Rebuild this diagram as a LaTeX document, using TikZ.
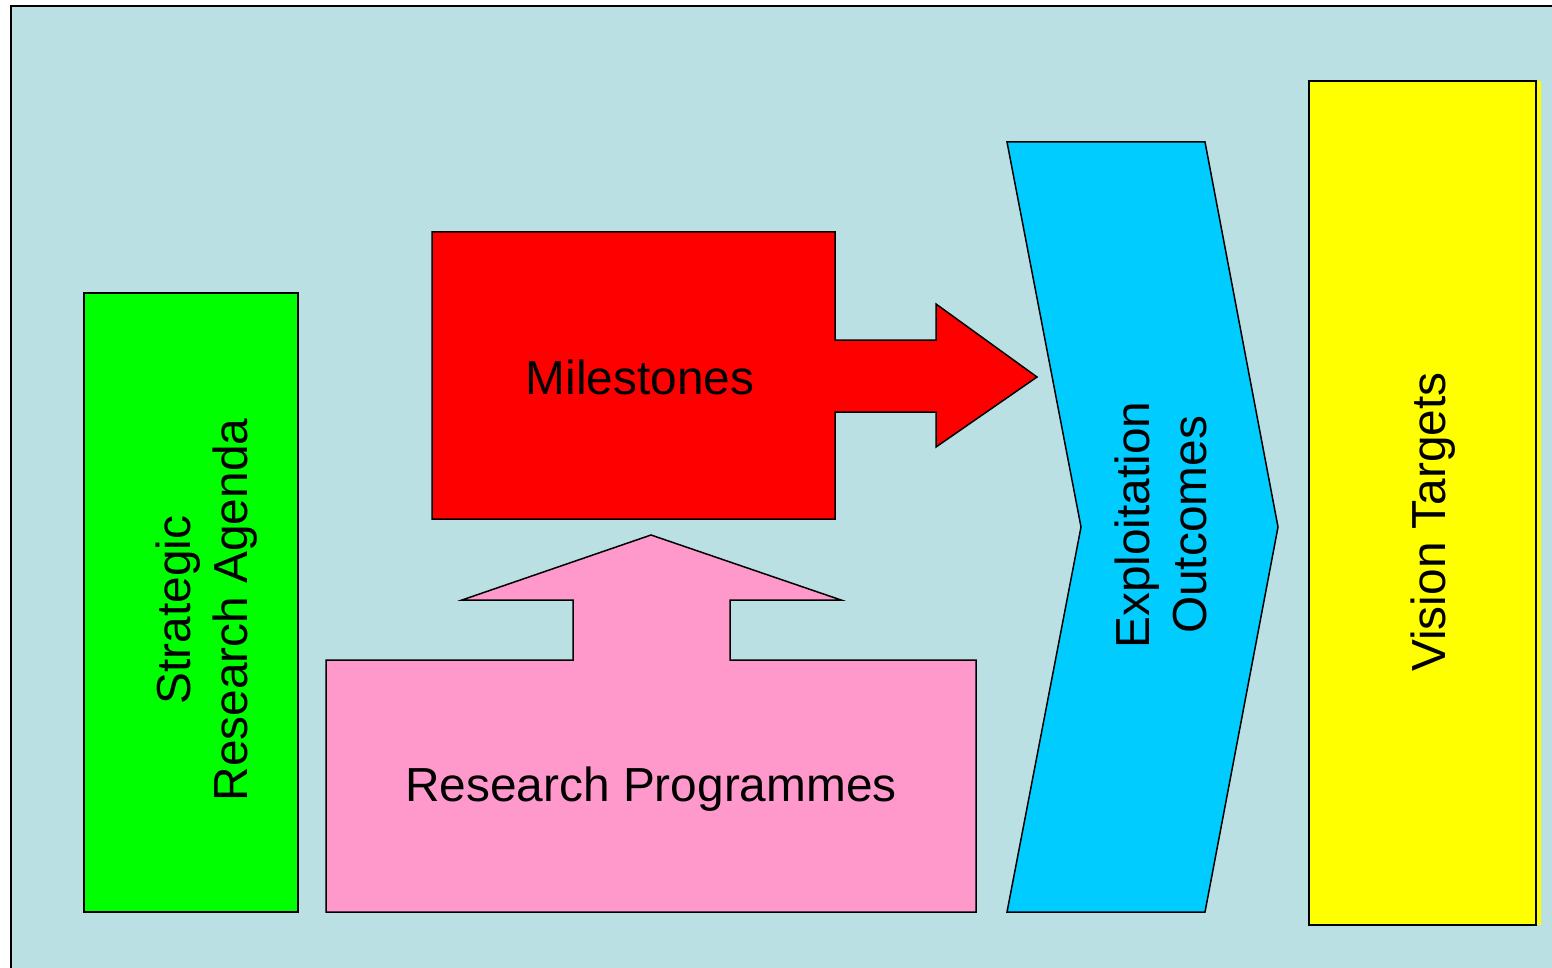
\documentclass[tikz,border=0pt]{standalone}
\usepackage{fontspec}
\setmainfont{Liberation Sans}
\definecolor{bgblue}{RGB}{187,224,227}
\definecolor{pinkc}{RGB}{255,153,204}
\definecolor{cyanc}{RGB}{0,204,255}
\definecolor{yellowc}{RGB}{255,255,0}
\definecolor{greenc}{RGB}{0,255,0}
\definecolor{redc}{RGB}{255,0,0}
\tikzset{
  shp/.style={draw=black, line width=1.5pt, line join=miter},
  lbl/.style={font=\fontsize{47.8}{57}\selectfont, align=center, inner sep=0pt},
}
\begin{document}
\begin{tikzpicture}[x=1pt,y=-1pt]
\useasboundingbox (0,0) rectangle (1552,968);
\fill[white] (0,0) rectangle (1552,968);
\fill[bgblue] (11,6) rectangle (1552,968);
\draw[line width=1.5pt] (11,968) -- (11,6) -- (1552,6);
% green
\draw[shp, fill=greenc] (84,293) rectangle (298,912);
\node[lbl, rotate=90] (sra) at (207,610) {Strategic\\Research Agenda};
% red milestones
\draw[shp, fill=redc] (432,232) -- (835,232) -- (835,340) -- (936,340) -- (936,304) -- (1037,377) -- (936,447) -- (936,412) -- (835,412) -- (835,519) -- (432,519) -- cycle;
\node[lbl] (ms) at (640,377) {Milestones};
% pink research programmes
\draw[shp, fill=pinkc] (326,660) -- (573,660) -- (573,600) -- (462,600) -- (651,535) -- (841,600) -- (730,600) -- (730,660) -- (976,660) -- (976,912) -- (326,912) -- cycle;
\node[lbl] (rp) at (651,789) {Research Programmes};
% cyan chevron
\draw[shp, fill=cyanc] (1007,142) -- (1205,142) -- (1278,527) -- (1205,912) -- (1007,912) -- (1081,527) -- cycle;
\node[lbl, rotate=90] (eo) at (1161,525) {Exploitation\\Outcomes};
% yellow
\fill[yellowc] (1309,81) rectangle (1541,925);
\draw[shp] (1309,81) rectangle (1536,925);
\node[lbl, rotate=90] (vt) at (1433,522) {Vision Targets};
\end{tikzpicture}
\end{document}
